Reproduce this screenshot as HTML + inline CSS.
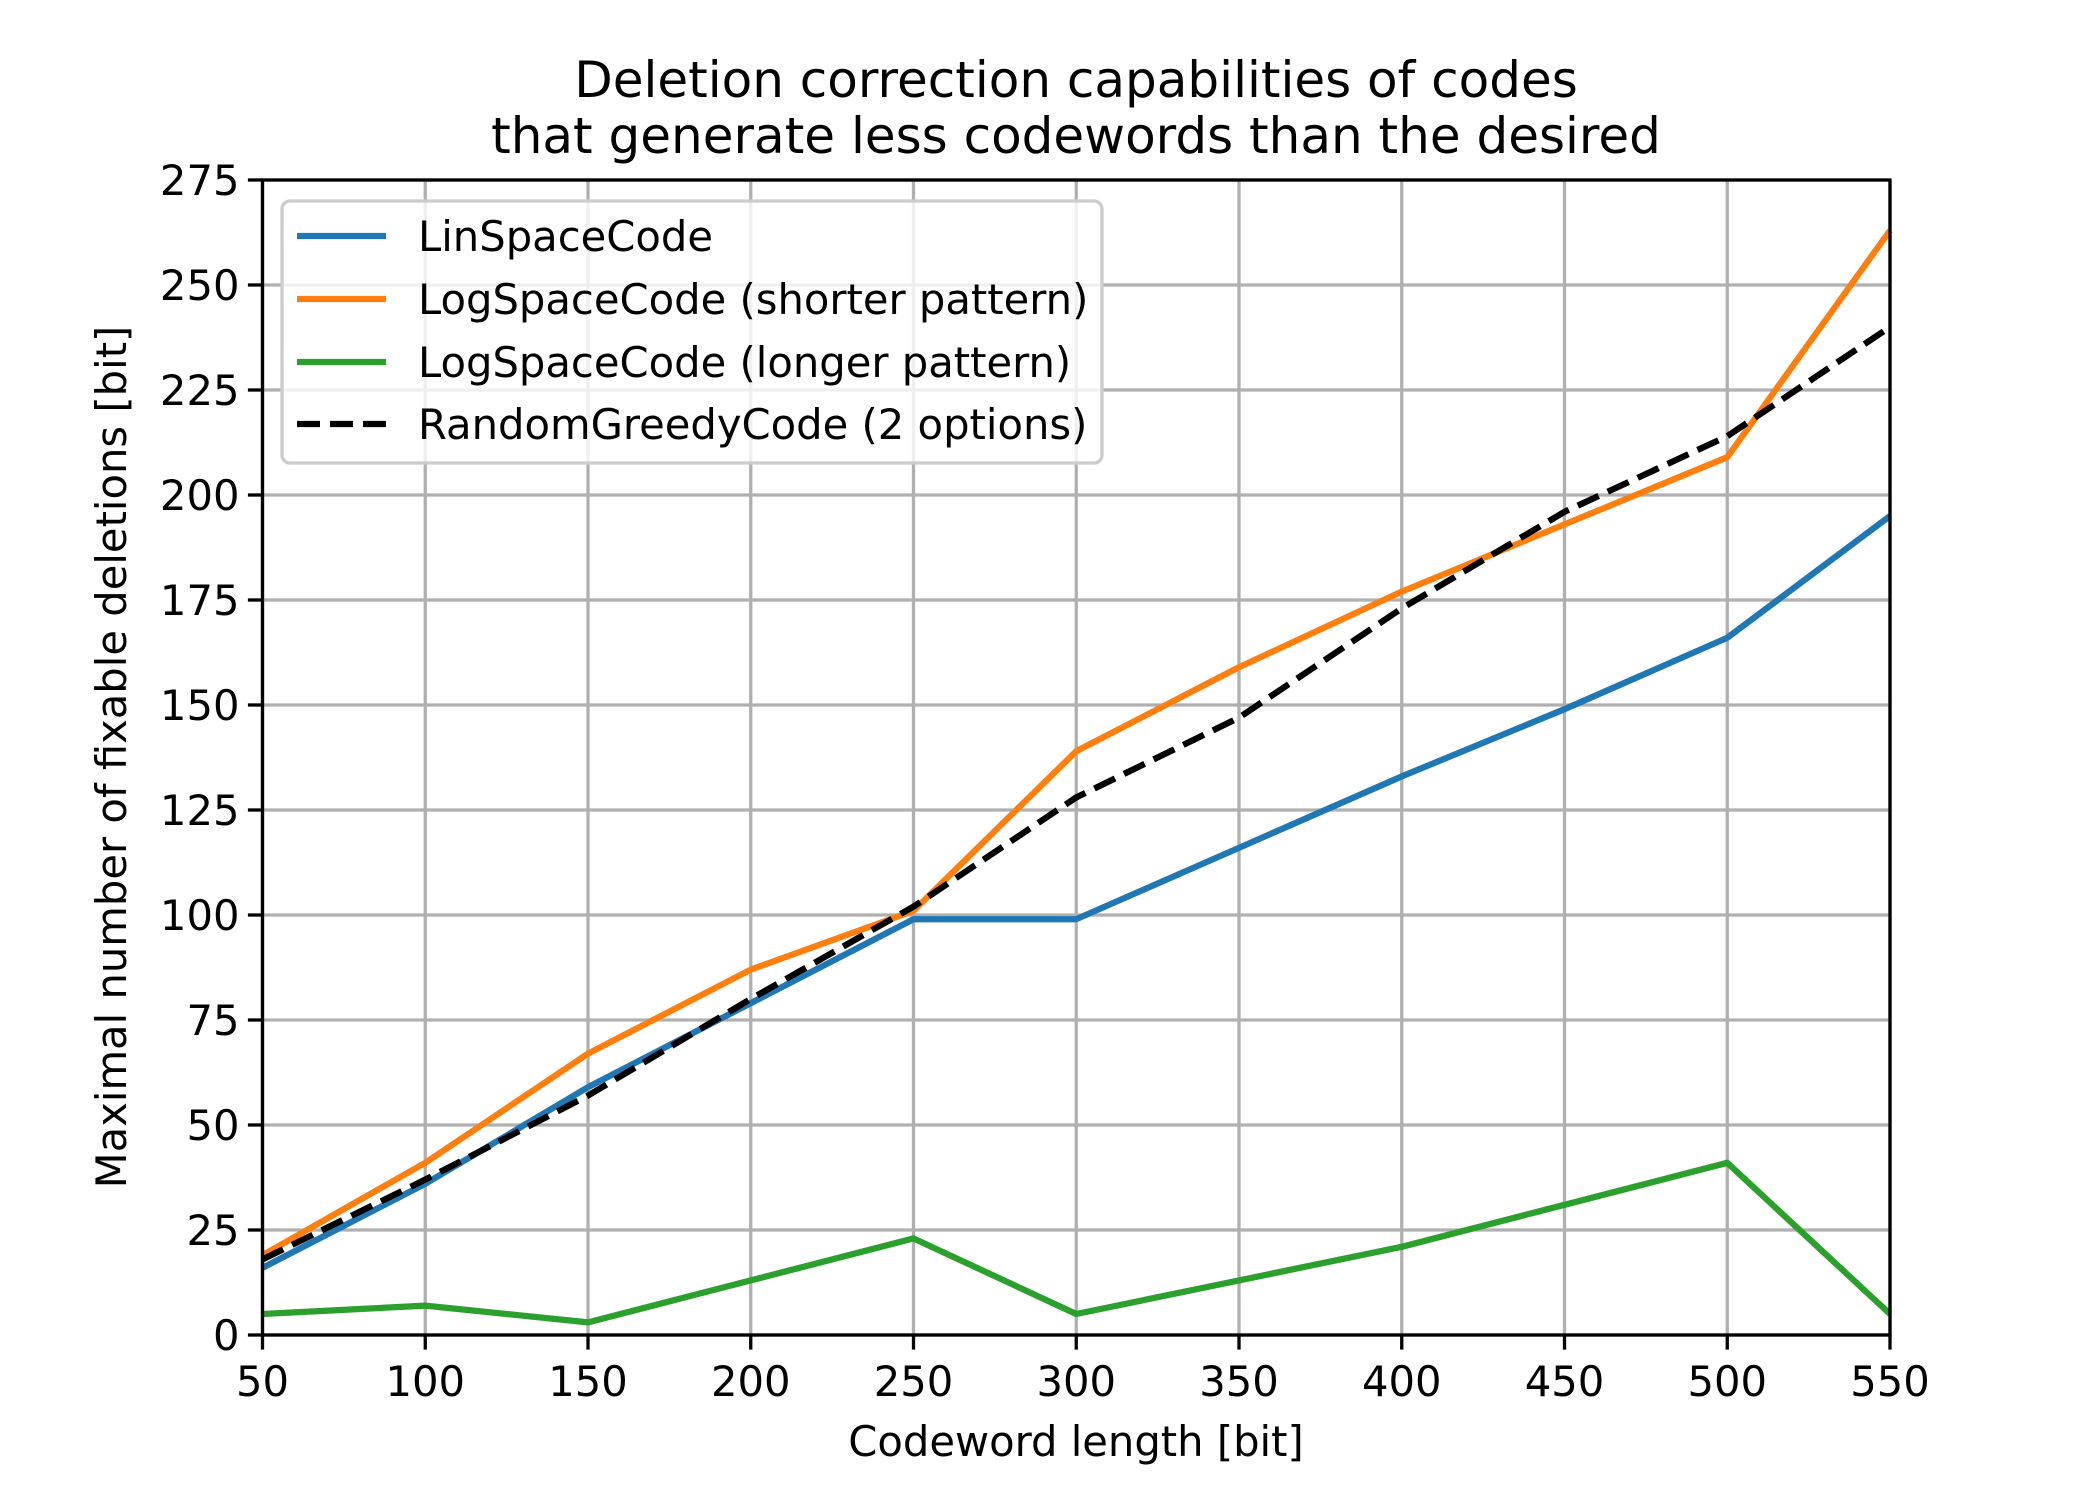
<!DOCTYPE html>
<html><head><meta charset="utf-8"><style>
html,body{margin:0;padding:0;background:#fff}
svg{display:block;font-family:"DejaVu Sans","Liberation Sans",sans-serif}
</style></head><body>
<svg id="chart" width="2100" height="1500" viewBox="0 0 2100 1500" xmlns="http://www.w3.org/2000/svg">
<rect width="2100" height="1500" fill="#fff"/>
<g id="grid"></g>
<g id="series"></g>
<rect x="262.5" y="180" width="1627.5" height="1155" fill="none" stroke="#000" stroke-width="3.3"/>
<g id="ticks" font-size="41.7" fill="#000"></g>
<text x="1076" y="97" text-anchor="middle" font-size="50">Deletion correction capabilities of codes</text>
<text x="1076" y="153" text-anchor="middle" font-size="50">that generate less codewords than the desired</text>
<text x="1076" y="1456" text-anchor="middle" font-size="41.7">Codeword length [bit]</text>
<text transform="translate(126,757) rotate(-90)" text-anchor="middle" font-size="41.7">Maximal number of fixable deletions [bit]</text>
<g id="legend"></g>
</svg>
<script>
const xValues=[50,100,150,200,250,300,350,400,450,500,550];
const linSpace=[16,36,59,79,99,99,116,133,149,166,195];
const logShorter=[19,41,67,87,101,139,159,177,193,209,263];
const logLonger=[5,7,3,13,23,5,13,21,31,41,5];
const randomGreedy=[18,37,57,80,102,128,147,173,196,214,240];
const xTicks=[50,100,150,200,250,300,350,400,450,500,550];
const yTicks=[0,25,50,75,100,125,150,175,200,225,250,275];
const seriesNames=["LinSpaceCode","LogSpaceCode (shorter pattern)","LogSpaceCode (longer pattern)","RandomGreedyCode (2 options)"];

const NS="http://www.w3.org/2000/svg";
const L=262.5,R=1890,T=180,B=1335;
const sx=v=>L+(v-50)/500*(R-L);
const sy=v=>B-v/275*(B-T);
function mk(tag,attrs,parent){const e=document.createElementNS(NS,tag);for(const k in attrs)e.setAttribute(k,attrs[k]);parent.appendChild(e);return e;}
const grid=document.getElementById('grid'),ticks=document.getElementById('ticks');
xTicks.forEach(t=>{
  const g=mk('line',{x1:sx(t),x2:sx(t),y1:T,y2:B,stroke:'#b0b0b0','stroke-width':3.3},grid);
  
  
  const tk=mk('line',{x1:sx(t),x2:sx(t),y1:B,y2:B+14.6,stroke:'#000','stroke-width':3.3},ticks);
  
  
  const tx=mk('text',{x:sx(t),y:B+61,'text-anchor':'middle'},ticks);tx.textContent=t;
  
  
});
yTicks.forEach(t=>{
  const g=mk('line',{x1:L,x2:R,y1:sy(t),y2:sy(t),stroke:'#b0b0b0','stroke-width':3.3},grid);
  
  
  const tk=mk('line',{x1:L-14.6,x2:L,y1:sy(t),y2:sy(t),stroke:'#000','stroke-width':3.3},ticks);
  
  
  const tx=mk('text',{x:L-23,y:sy(t)+15,'text-anchor':'end'},ticks);tx.textContent=t;
  
  
});
const series=document.getElementById('series');
const defs=[[linSpace,'#1f77b4',null,'line-linspace'],[logShorter,'#ff7f0e',null,'line-log-shorter'],[logLonger,'#2ca02c',null,'line-log-longer'],[randomGreedy,'#000','23 10','line-random-greedy']];
defs.forEach(([d,c,dash,name])=>{
  const a={points:d.map((v,i)=>sx(xValues[i])+','+sy(v)).join(' '),fill:'none',stroke:c,'stroke-width':6.25,'stroke-linejoin':'round'};
  if(dash)a['stroke-dasharray']=dash;
  const p=mk('polyline',a,series);
  
  
});
const lg=document.getElementById('legend');
const box=mk('rect',{x:282,y:201,width:820,height:262,rx:8,fill:'#fff','fill-opacity':0.8,stroke:'#ccc','stroke-width':3.3},lg);


const ly=[236,299,362,424];
defs.forEach(([d,c,dash],i)=>{
  const a={x1:297,x2:386,y1:ly[i],y2:ly[i],stroke:c,'stroke-width':6.25};
  if(dash)a['stroke-dasharray']=dash;
  const ln=mk('line',a,lg);
  
  
  const tx=mk('text',{x:418,y:ly[i]+15,'font-size':41.7},lg);tx.textContent=seriesNames[i];
  
  
});
</script>
</body></html>
